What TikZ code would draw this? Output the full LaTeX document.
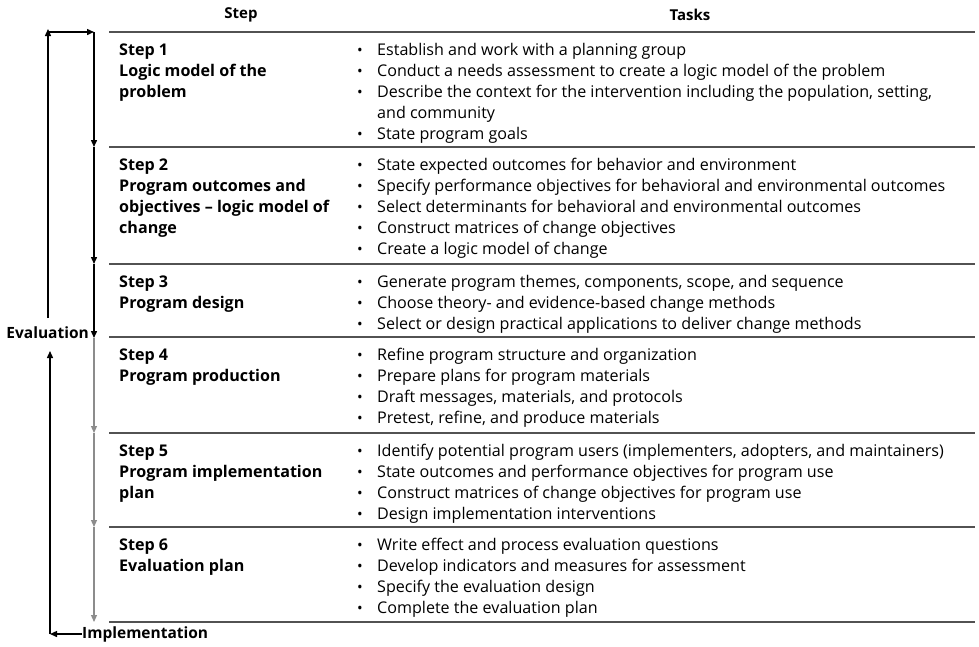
\documentclass[tikz,border=0pt]{standalone}
\usepackage{fontspec}
\setmainfont{Open Sans}
\usetikzlibrary{arrows.meta}
\newcommand{\bl}{\makebox[20pt][l]{\raisebox{0.3pt}{\fontsize{15}{15}\selectfont•}}}
\begin{document}
\begin{tikzpicture}[x=1pt,y=-1pt,
  rowline/.style={draw=black!68, line width=2pt},
  headline/.style={draw=black!68, line width=2.4pt},
  cell/.style={anchor=north west, inner sep=0pt, font=\fontsize{16.1}{21}\selectfont},
  stepcell/.style={cell, font=\fontsize{16.1}{21}\selectfont\bfseries},
  headtxt/.style={inner sep=0pt, font=\fontsize{15}{21}\selectfont\bfseries},
  lab/.style={inner sep=0pt, font=\fontsize{15.5}{21}\selectfont\bfseries},
  tip/.style={-{Triangle[length=7pt,width=6pt]}},
  blk/.style={tip, draw=black, line width=1.4pt},
  gry/.style={tip, draw=black!45, line width=1.2pt},
]
\useasboundingbox (0,0) rectangle (979,646);

% header
\node[headtxt] (hstep) at (241,15) {Step};
\node[headtxt] (htasks) at (690,15) {Tasks};

% row separators
\draw[headline] (109,32) -- (975,32);
\foreach \y in {147,264,337,433,527,622}{\draw[rowline] (109,\y) -- (975,\y);}

% step cells
\node[stepcell] (s1) at (119,41) {\begin{tabular}{@{}l@{}}Step 1\\Logic model of the\\problem\end{tabular}};
\node[stepcell] (s2) at (119,156) {\begin{tabular}{@{}l@{}}Step 2\\Program outcomes and\\objectives -- logic model of\\change\end{tabular}};
\node[stepcell] (s3) at (119,273) {\begin{tabular}{@{}l@{}}Step 3\\Program design\end{tabular}};
\node[stepcell] (s4) at (119,346) {\begin{tabular}{@{}l@{}}Step 4\\Program production\end{tabular}};
\node[stepcell] (s5) at (119,442) {\begin{tabular}{@{}l@{}}Step 5\\Program implementation\\plan\end{tabular}};
\node[stepcell] (s6) at (119,536) {\begin{tabular}{@{}l@{}}Step 6\\Evaluation plan\end{tabular}};

% task cells
\node[cell] (t1) at (357,41) {\begin{tabular}{@{}l@{}l@{}}
\bl & Establish and work with a planning group\\
\bl & Conduct a needs assessment to create a logic model of the problem\\
\bl & Describe the context for the intervention including the population, setting,\\
 & and community\\
\bl & State program goals\end{tabular}};
\node[cell] (t2) at (357,156) {\begin{tabular}{@{}l@{}l@{}}
\bl & State expected outcomes for behavior and environment\\
\bl & Specify performance objectives for behavioral and environmental outcomes\\
\bl & Select determinants for behavioral and environmental outcomes\\
\bl & Construct matrices of change objectives\\
\bl & Create a logic model of change\end{tabular}};
\node[cell] (t3) at (357,273) {\begin{tabular}{@{}l@{}l@{}}
\bl & Generate program themes, components, scope, and sequence\\
\bl & Choose theory- and evidence-based change methods\\
\bl & Select or design practical applications to deliver change methods\end{tabular}};
\node[cell] (t4) at (357,346) {\begin{tabular}{@{}l@{}l@{}}
\bl & Refine program structure and organization\\
\bl & Prepare plans for program materials\\
\bl & Draft messages, materials, and protocols\\
\bl & Pretest, refine, and produce materials\end{tabular}};
\node[cell] (t5) at (357,442) {\begin{tabular}{@{}l@{}l@{}}
\bl & Identify potential program users (implementers, adopters, and maintainers)\\
\bl & State outcomes and performance objectives for program use\\
\bl & Construct matrices of change objectives for program use\\
\bl & Design implementation interventions\end{tabular}};
\node[cell] (t6) at (357,536) {\begin{tabular}{@{}l@{}l@{}}
\bl & Write effect and process evaluation questions\\
\bl & Develop indicators and measures for assessment\\
\bl & Specify the evaluation design\\
\bl & Complete the evaluation plan\end{tabular}};

% left labels
\node[lab, anchor=east] (ev) at (89,333) {Evaluation};
\node[lab, anchor=west] (im) at (82,634) {Implementation};

% flow axis coordinates
\coordinate (a0) at (94,32);
\coordinate (a1) at (94,147);
\coordinate (a2) at (94,264);
\coordinate (a3) at (94,338);
\coordinate (a4) at (94,433);
\coordinate (a5) at (94,527);
\coordinate (a6) at (94,622);
\coordinate (ul) at (48,29);
\coordinate (ub) at (48,318);
\coordinate (lt) at (50,351);
\coordinate (ll) at (50,634);

% evaluation loop (top)
\draw[blk] (ub) -- (ul);
\draw[blk] (ul |- a0) -- (a0);
\draw[blk] (a0) -- (a1);
\draw[blk] (a1) -- (a2);
\draw[blk] (a2) -- (a3);
% lower steps
\draw[gry] (a3) -- (a4);
\draw[gry] (a4) -- (a5);
\draw[gry] (a5) -- (a6);
% implementation loop
\draw[blk] (im.west) -- (ll);
\draw[blk] (ll) -- (lt);
\end{tikzpicture}
\end{document}
